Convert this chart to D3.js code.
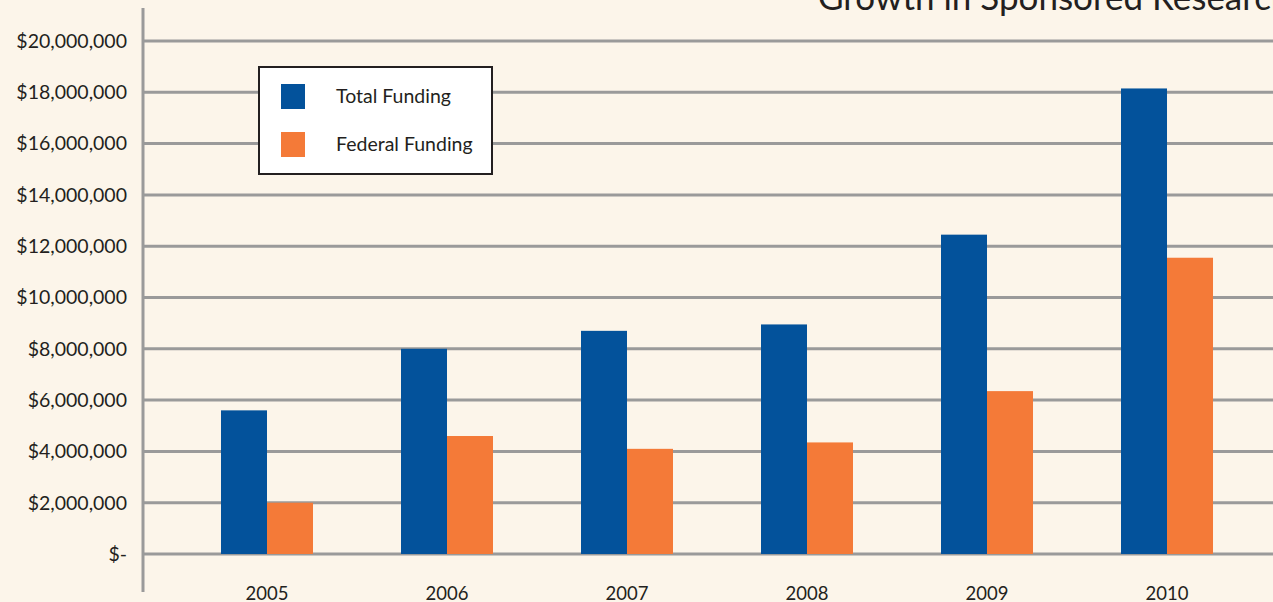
<!DOCTYPE html>
<html><head><meta charset="utf-8">
<script src="https://cdn.jsdelivr.net/npm/d3@7"></script>
<style>
html,body{margin:0;padding:0;background:#fcf5ea;overflow:hidden;}
svg{display:block;font-family:Lato,"Open Sans",sans-serif;}
</style></head><body>
<svg id="chart" width="1273" height="602"></svg>
<script>
const years = ["2005","2006","2007","2008","2009","2010"];
const totalFunding = [5600000, 8000000, 8700000, 8950000, 12450000, 18150000];
const federalFunding = [2000000, 4600000, 4100000, 4350000, 6350000, 11550000];
const yTicks = [0,2000000,4000000,6000000,8000000,10000000,12000000,14000000,16000000,18000000,20000000];
const seriesNames = ["Total Funding","Federal Funding"];
const colors = ["#03529b","#f47a38"];
const titleText = "Growth in Sponsored Research";

const svg = d3.select("#chart");
svg.append("rect").attr("width",1273).attr("height",602).attr("fill","#fcf5ea");

const y = d3.scaleLinear().domain([0,20000000]).range([554,41]);
const x = d3.scaleBand().domain(years).range([177,1257]).paddingInner(0.4889).paddingOuter(0.2444);
const xs = d3.scaleBand().domain([0,1]).range([0,x.bandwidth()]);

// gridlines
svg.append("g").selectAll("line").data(yTicks).join("line")
  .attr("x1",143).attr("x2",1273)
  .attr("y1",d=>y(d)).attr("y2",d=>y(d))
  .attr("stroke","#9a9a9a").attr("stroke-width",3);

// y axis line
svg.append("line").attr("x1",143).attr("x2",143).attr("y1",8).attr("y2",592)
  .attr("stroke","#9a9a9a").attr("stroke-width",3);

// y labels
const fmt = d3.format(",");
svg.append("g").selectAll("text").data(yTicks).join("text")
  .attr("x",127).attr("y",d=>y(d)).attr("dy","0.35em")
  .attr("text-anchor","end").attr("font-size",19.5).attr("fill","#231f20")
  .text(d=> d===0 ? "$-" : "$"+fmt(d));

// bars
const data = years.map((yr,i)=>({yr, vals:[totalFunding[i],federalFunding[i]]}));
const groups = svg.append("g").selectAll("g").data(data).join("g")
  .attr("transform",d=>`translate(${x(d.yr)},0)`);
groups.selectAll("rect").data(d=>d.vals.map((v,j)=>({v,j}))).join("rect")
  .attr("x",d=>xs(d.j)).attr("width",xs.bandwidth())
  .attr("y",d=>y(d.v)).attr("height",d=>y(0)-y(d.v))
  .attr("fill",d=>colors[d.j]);

// x labels
svg.append("g").selectAll("text").data(years).join("text")
  .attr("x",d=>x(d)+x.bandwidth()/2).attr("y",600)
  .attr("text-anchor","middle").attr("font-size",18.5).attr("fill","#231f20")
  .text(d=>d);

// legend
const lg = svg.append("g");
lg.append("rect").attr("x",259).attr("y",67).attr("width",233).attr("height",107)
  .attr("fill","#ffffff").attr("stroke","#231f20").attr("stroke-width",2);
seriesNames.forEach((n,i)=>{
  lg.append("rect").attr("x",281).attr("y",84+i*48).attr("width",24).attr("height",25).attr("fill",colors[i]);
  lg.append("text").attr("x",336).attr("y",96+i*48).attr("dy","0.35em")
    .attr("font-size",19.5).attr("fill","#231f20").text(n);
});

// title
svg.append("text").attr("x",818).attr("y",10).attr("font-size",35).attr("fill","#231f20").text(titleText);
</script>
</body></html>
